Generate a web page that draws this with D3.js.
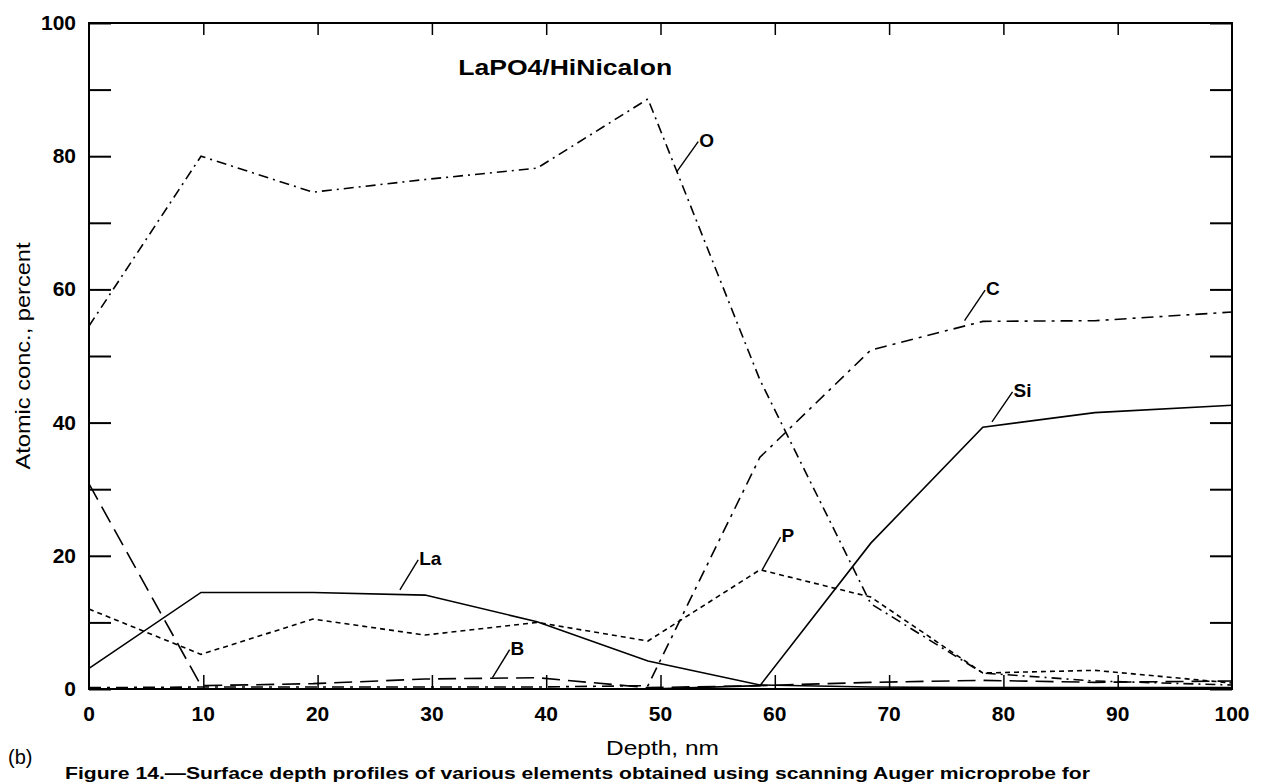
<!DOCTYPE html>
<html>
<head>
<meta charset="utf-8">
<script src="https://cdn.jsdelivr.net/npm/d3@7"></script>
<style>
  body { margin: 0; background: #fff; }
  text { font-family: "Liberation Sans", Arial, sans-serif; fill: #000; }
</style>
</head>
<body>
<div id="chart"></div>
<script>
// Depth profile data
const depth      = [0, 9.8, 19.6, 29.4, 39.2, 48.9, 58.7, 68.4, 78.2, 88, 100];
const oxygen     = [54.5, 80, 74.6, 76.5, 78.2, 88.6, 46.4, 12.8, 2.4, 1.2, 0.6];
const carbon     = [0.2, 0.3, 0.3, 0.3, 0.3, 0.5, 34.8, 50.9, 55.2, 55.3, 56.6];
const silicon    = [0, 0, 0, 0, 0, 0, 0.5, 21.9, 39.3, 41.5, 42.6];
const lanthanum  = [3.1, 14.5, 14.5, 14.1, 10.1, 4.2, 0.6, 0.3, 0.2, 0.2, 0.2];
const phosphorus = [12.0, 5.2, 10.5, 8.1, 10.0, 7.2, 17.9, 13.8, 2.4, 2.8, 0.9];
const boron      = [30.8, 0.5, 0.8, 1.5, 1.7, 0.2, 0.5, 1.0, 1.3, 1.0, 1.2];

const xTicks = [0, 10, 20, 30, 40, 50, 60, 70, 80, 90, 100];
const yTicks = [0, 20, 40, 60, 80, 100];
const yMinor = [0, 10, 20, 30, 40, 50, 60, 70, 80, 90, 100];

// element labels: [name, leader start (depth, conc), leader end (depth, conc)]
const labelNames = ["O", "C", "Si", "La", "P", "B"];
const labelFrom  = [[51.4, 77.6], [76.6, 55.3], [79.0, 40.1], [27.2, 14.9], [58.9, 17.9], [35.3, 1.7]];
const labelTo    = [[53.3, 82.2], [78.4, 59.9], [80.8, 44.6], [28.8, 19.4], [60.5, 22.8], [36.8, 5.9]];

const margin = {top: 23, right: 37, bottom: 94, left: 89},
      width = 1269 - margin.left - margin.right,
      height = 783 - margin.top - margin.bottom;

const root = d3.select("#chart")
  .append("svg")
    .attr("width", 1269)
    .attr("height", 783);

const svg = root.append("g")
    .attr("transform", `translate(${margin.left},${margin.top})`);

const x = d3.scaleLinear().domain([0, 100]).range([0, width]);
const y = d3.scaleLinear().domain([0, 100]).range([height, 0]);

// Ticks on all four sides, pointing inward
svg.append("g")
    .call(d3.axisLeft(y).tickValues(yMinor).tickSize(-22).tickFormat(""))
    .call(g => g.select(".domain").remove())
    .call(g => g.selectAll("line").attr("stroke-width", 2));
svg.append("g")
    .attr("transform", `translate(${width},0)`)
    .call(d3.axisRight(y).tickValues(yMinor).tickSize(-22).tickFormat(""))
    .call(g => g.select(".domain").remove())
    .call(g => g.selectAll("line").attr("stroke-width", 2));
svg.append("g")
    .attr("transform", `translate(0,${height})`)
    .call(d3.axisBottom(x).tickValues(xTicks.slice(1, -1)).tickSize(-14).tickFormat(""))
    .call(g => g.select(".domain").remove())
    .call(g => g.selectAll("line").attr("stroke-width", 1.5));
svg.append("g")
    .call(d3.axisTop(x).tickValues(xTicks.slice(1, -1)).tickSize(-12).tickFormat(""))
    .call(g => g.select(".domain").remove())
    .call(g => g.selectAll("line").attr("stroke-width", 1.5));

// Frame
svg.append("rect")
    .attr("x", 0).attr("y", 0)
    .attr("width", width).attr("height", height)
    .attr("fill", "none")
    .attr("stroke", "#000")
    .attr("stroke-width", 2);

// Tick labels
svg.append("g")
  .selectAll("text")
  .data(yTicks)
  .join("text")
    .attr("x", -13)
    .attr("y", d => y(d) + 7)
    .attr("text-anchor", "end")
    .attr("font-size", 21)
    .attr("font-weight", "bold")
    .text(d => d);

svg.append("g")
  .selectAll("text")
  .data(xTicks)
  .join("text")
    .attr("x", d => x(d))
    .attr("y", height + 32)
    .attr("text-anchor", "middle")
    .attr("font-size", 21)
    .attr("font-weight", "bold")
    .text(d => d);

// Axis titles
svg.append("text")
    .attr("text-anchor", "middle")
    .attr("x", width / 2 + 2)
    .attr("y", height + 66)
    .attr("font-size", 21)
    .attr("textLength", 113)
    .attr("lengthAdjust", "spacingAndGlyphs")
    .text("Depth, nm");

svg.append("text")
    .attr("text-anchor", "middle")
    .attr("transform", "rotate(-90)")
    .attr("x", -height / 2)
    .attr("y", -margin.left + 30)
    .attr("font-size", 21)
    .attr("textLength", 227)
    .attr("lengthAdjust", "spacingAndGlyphs")
    .text("Atomic conc., percent");

svg.append("text")
    .attr("x", x(32.3))
    .attr("y", y(93.4) + 8)
    .attr("font-size", 22)
    .attr("font-weight", "bold")
    .attr("textLength", 214)
    .attr("lengthAdjust", "spacingAndGlyphs")
    .text("LaPO4/HiNicalon");

// Series
const series = [
  {name: "O",  values: oxygen,     dash: "10,5,2,5", width: 1.6},
  {name: "C",  values: carbon,     dash: "12,6,3,6", width: 1.6},
  {name: "Si", values: silicon,    dash: null,       width: 1.6},
  {name: "La", values: lanthanum,  dash: null,       width: 1.6},
  {name: "P",  values: phosphorus, dash: "5,4",      width: 1.6},
  {name: "B",  values: boron,      dash: "18,8",     width: 1.6}
];

const line = d3.line()
    .x((d, i) => x(depth[i]))
    .y(d => y(d));

svg.selectAll(".series")
  .data(series)
  .join("path")
    .attr("class", "series")
    .attr("fill", "none")
    .attr("stroke", "#000")
    .attr("stroke-width", d => d.width)
    .attr("stroke-dasharray", d => d.dash)
    .attr("d", d => line(d.values));

// Element labels with leader lines
svg.selectAll(".leader")
  .data(labelNames)
  .join("line")
    .attr("class", "leader")
    .attr("x1", (d, i) => x(labelFrom[i][0]))
    .attr("y1", (d, i) => y(labelFrom[i][1]))
    .attr("x2", (d, i) => x(labelTo[i][0]))
    .attr("y2", (d, i) => y(labelTo[i][1]))
    .attr("stroke", "#000")
    .attr("stroke-width", 1.4);

svg.selectAll(".elabel")
  .data(labelNames)
  .join("text")
    .attr("class", "elabel")
    .attr("x", (d, i) => x(labelTo[i][0]) + 1)
    .attr("y", (d, i) => y(labelTo[i][1]) + 5)
    .attr("font-size", 19)
    .attr("font-weight", "bold")
    .text(d => d);

// Panel letter and caption
root.append("text")
    .attr("x", 8)
    .attr("y", 764)
    .attr("font-size", 20)
    .text("(b)");

root.append("text")
    .attr("x", 65)
    .attr("y", 779)
    .attr("font-size", 17)
    .attr("font-weight", "bold")
    .attr("textLength", 1025)
    .attr("lengthAdjust", "spacingAndGlyphs")
    .text("Figure 14.\u2014Surface depth profiles of various elements obtained using scanning Auger microprobe for");
</script>
</body>
</html>
